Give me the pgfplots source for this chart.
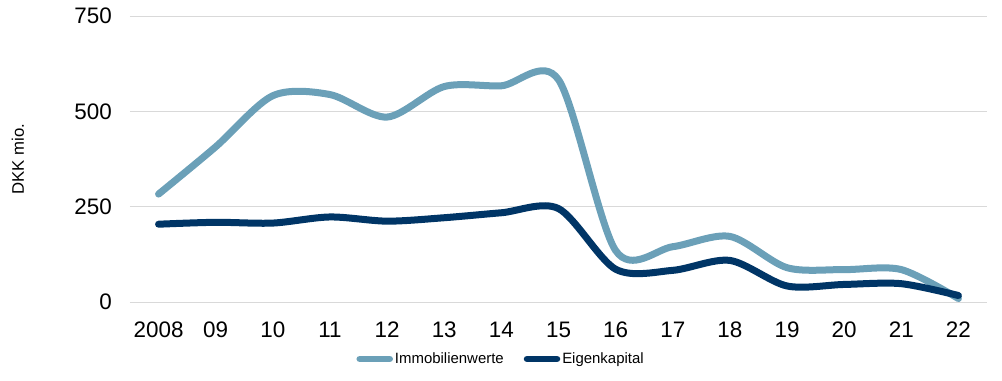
\documentclass[border=0pt]{standalone}
\usepackage{fontspec}
\setmainfont{Liberation Sans}
\usepackage{pgfplots}
\pgfplotsset{compat=1.18}
\definecolor{lightc}{RGB}{107,160,184}
\definecolor{darkc}{RGB}{0,53,102}
\definecolor{gridc}{RGB}{217,217,217}
\begin{document}
\begin{tikzpicture}
\path (-130bp,-79bp) rectangle (872bp,302bp);
\begin{axis}[
  at={(0,0)}, anchor=south west,
  scale only axis, width=857bp, height=286bp,
  xmin=-0.5, xmax=14.5, ymin=0, ymax=750,
  ytick={0,250,500,750},
  xtick={0,...,14},
  xticklabels={2008,09,10,11,12,13,14,15,16,17,18,19,20,21,22},
  axis line style={draw=none}, tick style={draw=none},
  ymajorgrids, grid style={draw=gridc, line width=1bp},
  /pgf/number format/assume math mode=true,
  yticklabel style={font=\fontsize{22.5}{24}\selectfont, inner sep=0pt, anchor=east},
  yticklabel shift=18bp,
  xticklabel style={font=\fontsize{22.5}{24}\selectfont, inner sep=0pt, anchor=north},
  xticklabel shift=19.5bp,
  ylabel={DKK mio.},
  ylabel style={at={(axis description cs:-0.1307,0.5)}, anchor=center, font=\fontsize{16.8}{18}\selectfont},
  legend style={at={(axis description cs:0.433,-0.199)}, anchor=center, draw=none,
    font=\fontsize{15}{16}\selectfont, inner sep=0pt,
    /tikz/every odd column/.append style={column sep=0bp},
    /tikz/every even column/.append style={column sep=18bp}},
  legend columns=2,
  legend image code/.code={\draw[#1, line width=6.5bp, line cap=round] (3bp,0cm) -- (33bp,0cm);},
]
\addplot[lightc, line width=7bp, smooth, tension=0.5, line cap=round] coordinates {
 (0,283) (1,407) (2,541) (3,544) (4,485) (5,565) (6,567) (7,583)
 (8,135) (9,145) (10,172) (11,90) (12,85) (13,85) (14,9)};
\addlegendentry{Immobilienwerte}
\addplot[darkc, line width=7bp, smooth, tension=0.5, line cap=round] coordinates {
 (0,204) (1,209) (2,207) (3,223) (4,212) (5,221) (6,234) (7,245)
 (8,86) (9,83) (10,109) (11,42) (12,46) (13,48) (14,17)};
\addlegendentry{Eigenkapital}
\end{axis}
\end{tikzpicture}
\end{document}
